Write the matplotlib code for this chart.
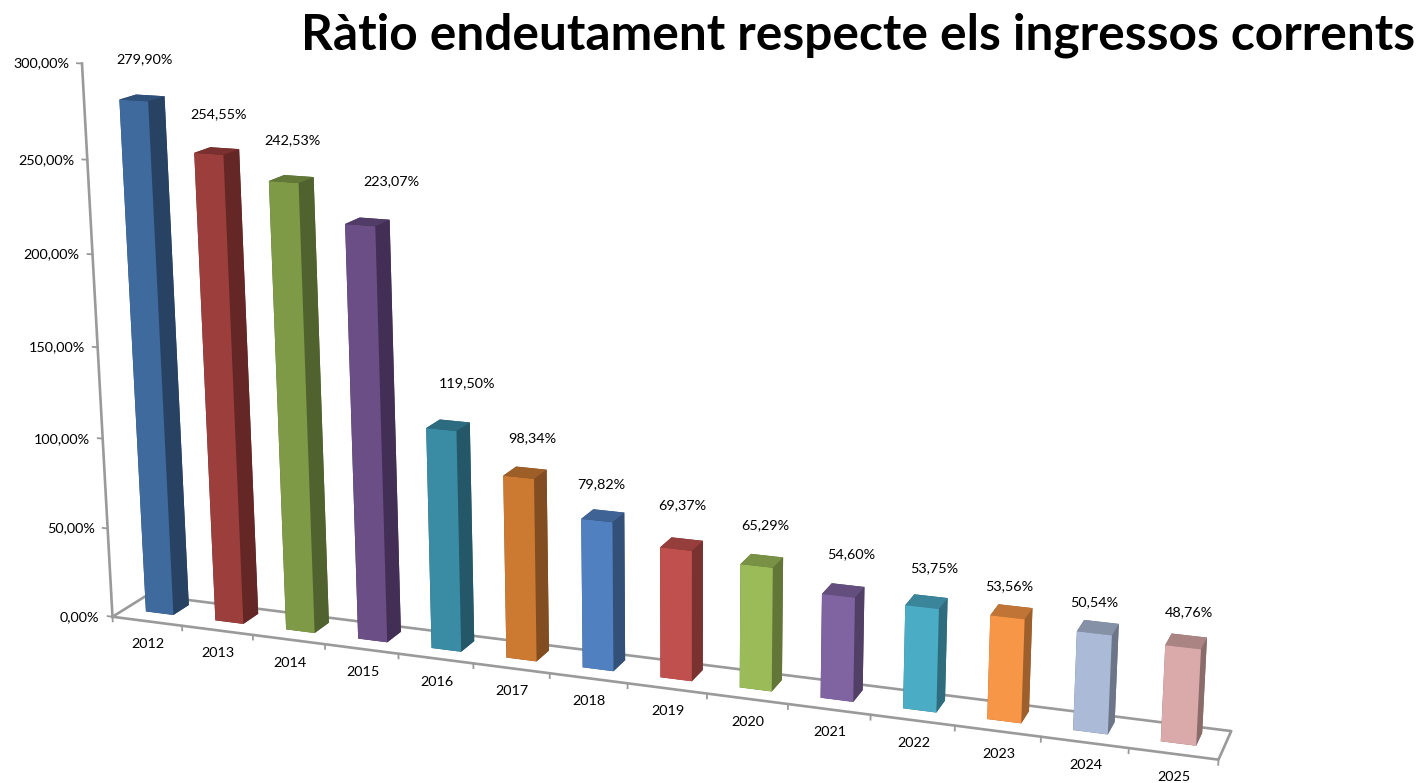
import numpy as np
import matplotlib
matplotlib.use("Agg")
import matplotlib.pyplot as plt
from mpl_toolkits.mplot3d import proj3d

plt.rcParams["font.family"] = ["Lato", "DejaVu Sans"]

years = ["2012", "2013", "2014", "2015", "2016", "2017", "2018", "2019", "2020", "2021", "2022", "2023", "2024", "2025"]
ratio = [279.90, 254.55, 242.53, 223.07, 119.50, 98.34, 79.82, 69.37, 65.29, 54.60, 53.75, 53.56, 50.54, 48.76]
ticks = [0, 50, 100, 150, 200, 250, 300]

front_colors = ["#3F6A9E", "#9C3E3C", "#7E9A47", "#6A4E85", "#3A8CA5", "#CC7A32", "#5080BF",
                "#C0504D", "#9BBB59", "#8064A2", "#4BACC6", "#F79646", "#AABAD7", "#D9AAA9"]
side_colors = ["#274263", "#642725", "#50622D", "#432F55", "#245868", "#824D20", "#335079",
               "#7A3230", "#627638", "#513F66", "#2F6C7E", "#9D5F2C", "#6C7688", "#8A6C6B"]
top_colors = ["#2F5079", "#7A302E", "#627837", "#513C67", "#2D6C80", "#9E5E27", "#3E6394",
              "#953E3C", "#789145", "#634E7E", "#3A859A", "#C07436", "#8491A7", "#A98483"]

# pixel nudges of the value labels from the top of each bar
label_dx = [3, 2, 1, 24, 19, 7, -2, 1, 3, 8, 8, -2, -4, 3]
label_dy = [39, 37, 39, 41, 42, 35, 32, 39, 36, 36, 33, 26, 25, 29]

W, H = 1419, 783
bar_w, y0, y1 = 0.3981, 0.3589, 0.8092
scale, tx, ty = 7026.26, 639.31, 387.24
gray = "#9A9A9A"

def fmt(v):
    return f"{v:.2f}".replace(".", ",") + "%"

fig = plt.figure(figsize=(W / 100, H / 100), dpi=100)
ax = fig.add_axes([0, 0, 1, 1], projection="3d")
ax.computed_zorder = False

n = len(years)
x = np.arange(n) + 0.5 - bar_w / 2
face_colors = []
for f, s, t in zip(front_colors, side_colors, top_colors):
    face_colors += [s, t, f, s, s, s]  # bottom, top, front, back, left, right
bars = ax.bar3d(x, np.full(n, y0), np.zeros(n), bar_w, y1 - y0, ratio, color=face_colors, shade=False, zorder=3)

# floor and value axis
ax.plot([0, n, n, 0, 0], [0, 0, 1, 1, 0], [0, 0, 0, 0, 0], color=gray, lw=1.9, zorder=1)
ax.plot([0, 0], [0, 0], [0, ticks[-1]], color=gray, lw=1.9, zorder=1)
for t in ticks:
    ax.plot([-0.07, 0], [0, 0], [t, t], color=gray, lw=1.3, zorder=1)
for i in range(n + 1):
    ax.plot([i, i], [0, 0], [-2.6, 0], color=gray, lw=1.3, zorder=1)

ax.set_xlim(0, n)
ax.set_ylim(0, 1)
ax.set_zlim(0, 300)
ax.view_init(elev=15.131, azim=-69.732, roll=0.240)
ax.set_proj_type("persp", focal_length=0.4077)
ax.set_box_aspect((1, 0.0638, 0.5059))
ax.set_axis_off()

# place the square axes so that the projected box lands where the reference has it
u0, u1 = ax.viewLim.intervalx
v0, v1 = ax.viewLim.intervaly
ax.set_position([(tx + scale * u0) / W, (H - ty + scale * v0) / H, scale * (u1 - u0) / W, scale * (v1 - v0) / H])

M = ax.get_proj()

def note(text, x3, y3, z3, dx, dy, **kw):
    u, v, _ = proj3d.proj_transform(x3, y3, z3, M)
    ax.annotate(text, (u, v), xytext=(dx, dy), textcoords="offset pixels", annotation_clip=False,
                fontsize=10.4, color="black", **kw)

for t in ticks:
    note(fmt(t), 0, 0, t, -13, 0, ha="right", va="center")
for i, year in enumerate(years):
    note(year, i + 0.5, 0, 0, 1, -23, ha="center", va="center")
for i, v in enumerate(ratio):
    note(fmt(v), i + 0.5, (y0 + y1) / 2, v, label_dx[i], label_dy[i], ha="center", va="center")

fig.text(301 / W, 1 - 50 / H, "Ràtio endeutament respecte els ingressos corrents",
         fontsize=35.7, fontweight="bold", color="black", ha="left", va="baseline")

fig.savefig("out.png", dpi=100)
